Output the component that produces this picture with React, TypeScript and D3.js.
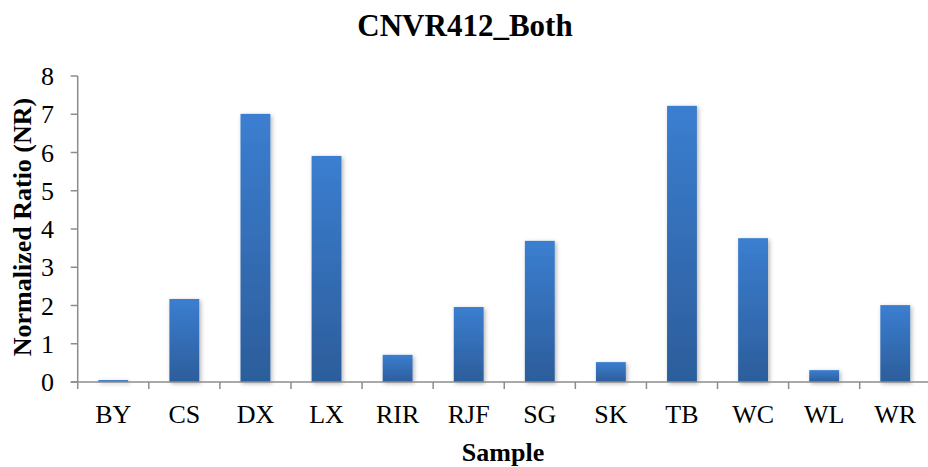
import React from "react";
import * as d3 from "d3";

const samples = ["BY", "CS", "DX", "LX", "RIR", "RJF", "SG", "SK", "TB", "WC", "WL", "WR"];
const ratios = [0.05, 2.17, 7.01, 5.91, 0.71, 1.96, 3.69, 0.52, 7.22, 3.76, 0.31, 2.01];
const yTicks = [0, 1, 2, 3, 4, 5, 6, 7, 8];

const W = 928;
const H = 467;
const left = 77.7;
const right = 930.8;
const top = 76;
const bottom = 382;
const axisColor = "#8c8c8c";
const textStyle = { fontFamily: '"Liberation Serif", "Times New Roman", serif', fill: "#000" };

export default function App() {
  const x = d3.scaleBand<string>().domain(samples).range([left, right]).paddingInner(0.58).paddingOuter(0.29);
  const band = d3.scaleBand<string>().domain(samples).range([left, right]);
  const y = d3.scaleLinear().domain([0, 8]).range([bottom, top]);

  return (
    <svg width={W} height={H} style={{ position: "absolute", left: 0, top: 0, background: "#fff" }}>
      <defs>
        <linearGradient id="barFill" x1="0" y1="0" x2="0" y2="1">
          <stop offset="0%" stopColor="#3b7ed0" />
          <stop offset="100%" stopColor="#2c5d9b" />
        </linearGradient>
        <filter id="barShadow" x="-30%" y="-10%" width="160%" height="130%">
          <feDropShadow dx="1.5" dy="1.5" stdDeviation="2" floodColor="#000" floodOpacity="0.3" />
        </filter>
      </defs>

      <text x={465} y={36} textAnchor="middle" fontSize={31} fontWeight="bold" style={textStyle}>
        CNVR412_Both
      </text>

      {/* bars */}
      <g filter="url(#barShadow)">
        {samples.map((s, i) => (
          <rect key={s} x={x(s)!} y={y(ratios[i])} width={x.bandwidth()} height={bottom - y(ratios[i])} fill="url(#barFill)" />
        ))}
      </g>

      {/* y axis */}
      <line x1={left} x2={left} y1={top} y2={bottom} stroke={axisColor} strokeWidth={1.5} />
      {yTicks.map((t) => (
        <g key={t}>
          <line x1={left - 7} x2={left} y1={y(t)} y2={y(t)} stroke={axisColor} strokeWidth={1.5} />
          <text x={54} y={y(t)} dy="0.35em" textAnchor="end" fontSize={26} style={textStyle}>
            {t}
          </text>
        </g>
      ))}

      {/* x axis */}
      <line x1={left - 7} x2={W} y1={bottom} y2={bottom} stroke={axisColor} strokeWidth={1.5} />
      {samples.map((s) => (
        <line key={"t" + s} x1={band(s)!} x2={band(s)!} y1={bottom} y2={bottom + 7} stroke={axisColor} strokeWidth={1.5} />
      ))}
      {samples.map((s) => (
        <text key={"l" + s} x={band(s)! + band.bandwidth() / 2} y={423} textAnchor="middle" fontSize={26} style={textStyle}>
          {s}
        </text>
      ))}

      <text x={503} y={461} textAnchor="middle" fontSize={26} fontWeight="bold" style={textStyle}>
        Sample
      </text>
      <text transform={`translate(31, 227) rotate(-90)`} textAnchor="middle" fontSize={26} fontWeight="bold" style={textStyle}>
        Normalized Ratio (NR)
      </text>
    </svg>
  );
}
